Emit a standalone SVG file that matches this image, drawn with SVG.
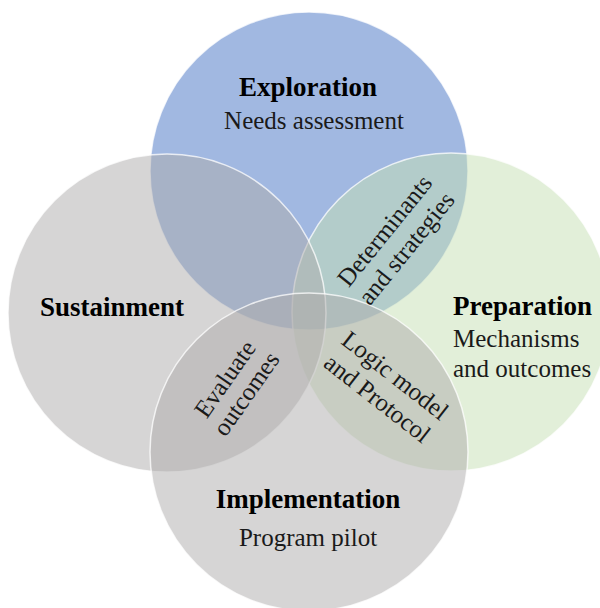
<svg xmlns="http://www.w3.org/2000/svg" width="600" height="608" viewBox="0 0 600 608">
  <style>
    .ring { stroke: #ffffff; stroke-opacity: 0.75; stroke-width: 1.5; fill-opacity: 0.5; }
    .title { font-family: "Liberation Serif", "Times New Roman", serif; font-weight: bold; font-size: 27px; fill: #000000; }
    .sub { font-family: "Liberation Serif", "Times New Roman", serif; font-size: 25px; fill: #1a1a1a; }
    .mid { text-anchor: middle; }
  </style>
  <rect x="0" y="0" width="600" height="608" fill="#ffffff"/>

  <!-- Four overlapping phase circles -->
  <g id="exploration">
    <circle class="ring" cx="309" cy="171" r="159" fill="#4472C4"/>
  </g>
  <g id="preparation">
    <circle class="ring" cx="451" cy="312" r="159" fill="#C5E0B4"/>
  </g>
  <g id="sustainment">
    <circle class="ring" cx="167" cy="313" r="159" fill="#AEABAB"/>
  </g>
  <g id="implementation">
    <circle class="ring" cx="309" cy="452" r="159" fill="#AEABAB"/>
  </g>

  <!-- Phase labels -->
  <g id="exploration-label">
    <text class="title mid" x="308" y="96">Exploration</text>
    <text class="sub mid" x="314" y="129">Needs assessment</text>
  </g>
  <g id="sustainment-label">
    <text class="title mid" x="112" y="316">Sustainment</text>
  </g>
  <g id="preparation-label">
    <text class="title" x="453" y="315">Preparation</text>
    <text class="sub" x="453" y="347">Mechanisms</text>
    <text class="sub" x="453" y="377">and outcomes</text>
  </g>
  <g id="implementation-label">
    <text class="title mid" x="308" y="508">Implementation</text>
    <text class="sub mid" x="308" y="546">Program pilot</text>
  </g>

  <!-- Overlap labels -->
  <g id="determinants" transform="translate(395,239) rotate(-51)">
    <text class="sub mid" x="0" y="-5">Determinants</text>
    <text class="sub mid" x="0" y="23">and strategies</text>
  </g>
  <g id="evaluate" transform="translate(235,386) rotate(-55)">
    <text class="sub mid" x="0" y="-4">Evaluate</text>
    <text class="sub mid" x="0" y="22">outcomes</text>
  </g>
  <g id="logic-model" transform="translate(387,386) rotate(38)">
    <text class="sub mid" x="0" y="-5">Logic model</text>
    <text class="sub mid" x="0" y="24">and Protocol</text>
  </g>

  <g id="connectors"/>
</svg>
